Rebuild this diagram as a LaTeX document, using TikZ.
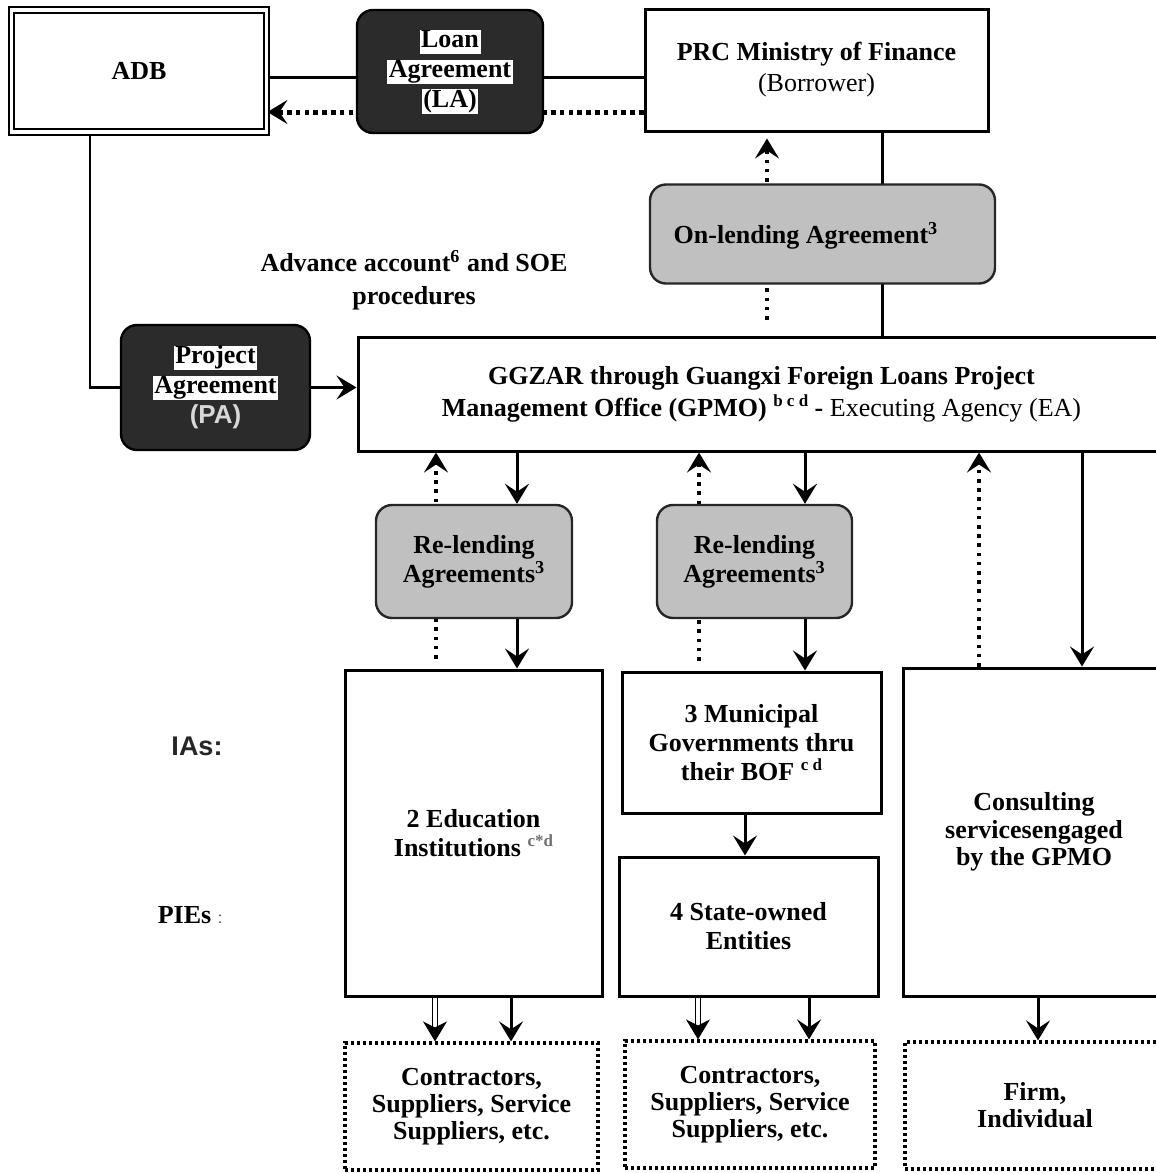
\documentclass[tikz,border=0pt]{standalone}
\usepackage{fontspec}
\setmainfont{Liberation Serif}
\newfontfamily\arialfont{Liberation Sans}
\usetikzlibrary{arrows.meta,calc}
\pgfdeclarelayer{bg}
\pgfsetlayers{bg,main}
\definecolor{darkfill}{HTML}{2B2B2B}
\definecolor{lightfill}{HTML}{C0C0C0}
\definecolor{supgray}{HTML}{707070}
\definecolor{pagray}{HTML}{D8D8D8}
\definecolor{iagray}{HTML}{262626}
\setlength{\fboxsep}{0pt}
\newcommand{\wbox}[1]{\colorbox{white}{\rule[-3pt]{0pt}{12pt}\hspace{0.8pt}#1\hspace{0.8pt}}}
\newcommand{\supl}[1]{\raisebox{5pt}{\fontsize{8.5}{9}\selectfont #1}}
\tikzset{
  txt/.style={font=\fontsize{13}{14.5}\selectfont\bfseries, align=center, text=black},
  box/.style={draw, line width=1.5pt, txt, inner sep=0pt},
  dbox/.style={draw=black, line width=1.2pt, fill=darkfill, rounded corners=8pt, txt, inner sep=0pt},
  gbox/.style={draw=black!85, line width=1.2pt, fill=lightfill, rounded corners=8pt, txt, inner sep=0pt},
  dotbox/.style={draw, line width=1.6pt, dash pattern=on 1.5pt off 1.5pt, txt, inner sep=0pt},
  conn/.style={line width=1.5pt},
  tip/.style={-{Stealth[length=10pt,width=12pt,inset=4pt]}},
  arr/.style={conn, tip},
  dotarr/.style={line width=1.9pt, dash pattern=on 1.8pt off 2.8pt, tip},
  bigdot/.style={line width=2.5pt, dash pattern=on 2.3pt off 2.1pt, tip},
  dblarr/.style={double, line width=0.7pt, double distance=2pt, -{Stealth[length=10pt,width=12pt,inset=3pt]}},
}
\begin{document}
\begin{tikzpicture}[x=0.5pt,y=-0.5pt]
\useasboundingbox (0,0) rectangle (1156,1173);

% top row
\node[box, double, line width=0.9pt, double distance=1.9pt, minimum width=127.5pt, minimum height=61pt] (adb) at (139,71) {ADB};
\node[dbox, minimum width=93pt, minimum height=61.5pt, font=\fontsize{13}{15}\selectfont\bfseries] (la) at (450,71.5) {\wbox{Loan}\\\wbox{Agreement}\\\wbox{(LA)}};
\node[box, minimum width=171.5pt, minimum height=61pt, font=\fontsize{13}{15.5}\selectfont\bfseries] (prc) at (816.5,70) {PRC Ministry of Finance\\\textmd{(Borrower)}};

\node[gbox, minimum width=172.5pt, minimum height=49.5pt] (onl) at (822.5,234) {};
\node[txt] (onltxt) at (806,236) {On-lending Agreement\textsuperscript{3}};

\node[txt, font=\fontsize{13}{16.5}\selectfont\bfseries] (adv) at (414,280) {Advance account\textsuperscript{6} and SOE\\procedures};

% PA and GPMO
\node[dbox, minimum width=94.5pt, minimum height=62.5pt, font=\fontsize{13}{15}\selectfont\bfseries] (pa) at (215.5,387.5) {\wbox{Project}\\\wbox{Agreement}\\{\arialfont\bfseries\color{pagray}(PA)}};
\node[box, minimum width=403.5pt, minimum height=57pt, font=\fontsize{13}{16}\selectfont\bfseries] (gpmo) at (761.5,394) {GGZAR through Guangxi Foreign Loans Project\\Management Office (GPMO) \supl{b c d} - \textmd{Executing Agency (EA)}};

% re-lending
\node[gbox, minimum width=98pt, minimum height=56.5pt] (rl1) at (474,561.5) {Re-lending\\Agreements\textsuperscript{3}};
\node[gbox, minimum width=97.5pt, minimum height=56.5pt] (rl2) at (754.5,561.5) {Re-lending\\Agreements\textsuperscript{3}};

% agencies
\node[box, minimum width=128.5pt, minimum height=163pt] (edu) at (473.5,833) {2 Education\\Institutions {\color{supgray}\supl{c*d}}};
\node[box, minimum width=129.5pt, minimum height=70.5pt] (mun) at (751.5,742.5) {3 Municipal\\Governments thru\\their BOF \supl{c d}};
\node[box, minimum width=129.5pt, minimum height=69.5pt] (soe) at (748.5,926.5) {4 State-owned\\Entities};
\node[box, minimum width=131pt, minimum height=164pt, font=\fontsize{13}{13.8}\selectfont\bfseries] (con) at (1034,832) {Consulting\\servicesengaged\\by the GPMO};

% side labels
\node[font=\fontsize{13.5}{15}\selectfont\arialfont\bfseries, text=iagray] (ias) at (197,746) {IAs:};
\node[font=\fontsize{13}{15}\selectfont\bfseries] (pies) at (190,915) {PIEs {\arialfont\mdseries\footnotesize\color{darkgray}:}};

% bottom
\node[dotbox, minimum width=126.5pt, minimum height=63.5pt, font=\fontsize{13}{13.5}\selectfont\bfseries] (c1) at (471.5,1106.5) {Contractors,\\Suppliers, Service\\Suppliers, etc.};
\node[dotbox, minimum width=125pt, minimum height=63.5pt, font=\fontsize{13}{13.5}\selectfont\bfseries] (c2) at (750,1104.5) {Contractors,\\Suppliers, Service\\Suppliers, etc.};
\node[dotbox, minimum width=130pt, minimum height=63.5pt, font=\fontsize{13}{13.5}\selectfont\bfseries] (c3) at (1035,1105.5) {Firm,\\Individual};

% x / y helper coordinates
\coordinate (yla) at (0,77);
\coordinate (yld) at (0,112);
\coordinate (xadb) at (90,0);
\coordinate (xpg) at (882,0);
\coordinate (xod) at (767,0);
\coordinate (xa) at (436,0);
\coordinate (xb) at (517,0);
\coordinate (xc) at (699,0);
\coordinate (xd) at (805,0);
\coordinate (xe) at (979,0);
\coordinate (xf) at (1082,0);
\coordinate (xg) at (745,0);
\coordinate (xh) at (435,0);
\coordinate (xi) at (511,0);
\coordinate (xj) at (698,0);
\coordinate (xk) at (809,0);
\coordinate (xl) at (1038,0);

\begin{pgfonlayer}{bg}
\draw[conn] (adb.east |- yla) -- (la.west |- yla);
\draw[conn] (la.east |- yla) -- (prc.west |- yla);
\draw[bigdot] (prc.west |- yld) -- (adb.east |- yld);
\draw[conn, line width=1.2pt] (adb.south -| xadb) |- (pa.west);
\draw[conn] (prc.south -| xpg) -- (gpmo.north -| xpg);
\draw[dotarr, shorten <=8pt, shorten >=3pt] (gpmo.north -| xod) -- (prc.south -| xod);
\draw[dotarr, shorten <=5pt] (edu.north -| xa) -- (gpmo.south -| xa);
\draw[dotarr, shorten <=5pt] (mun.north -| xc) -- (gpmo.south -| xc);
\end{pgfonlayer}

\draw[arr] (pa.east) -- (gpmo.west |- pa.east);
\draw[arr] (gpmo.south -| xb) -- (rl1.north -| xb);
\draw[arr] (rl1.south -| xb) -- (edu.north -| xb);
\draw[arr] (gpmo.south -| xd) -- (rl2.north -| xd);
\draw[arr] (rl2.south -| xd) -- (mun.north -| xd);
\draw[dotarr] (con.north -| xe) -- (gpmo.south -| xe);
\draw[arr] (gpmo.south -| xf) -- (con.north -| xf);
\draw[arr] (mun.south -| xg) -- (soe.north -| xg);
\draw[dblarr] (edu.south -| xh) -- (c1.north -| xh);
\draw[arr] (edu.south -| xi) -- (c1.north -| xi);
\draw[dblarr] (soe.south -| xj) -- (c2.north -| xj);
\draw[arr] (soe.south -| xk) -- (c2.north -| xk);
\draw[arr] (con.south -| xl) -- (c3.north -| xl);
\end{tikzpicture}
\end{document}
